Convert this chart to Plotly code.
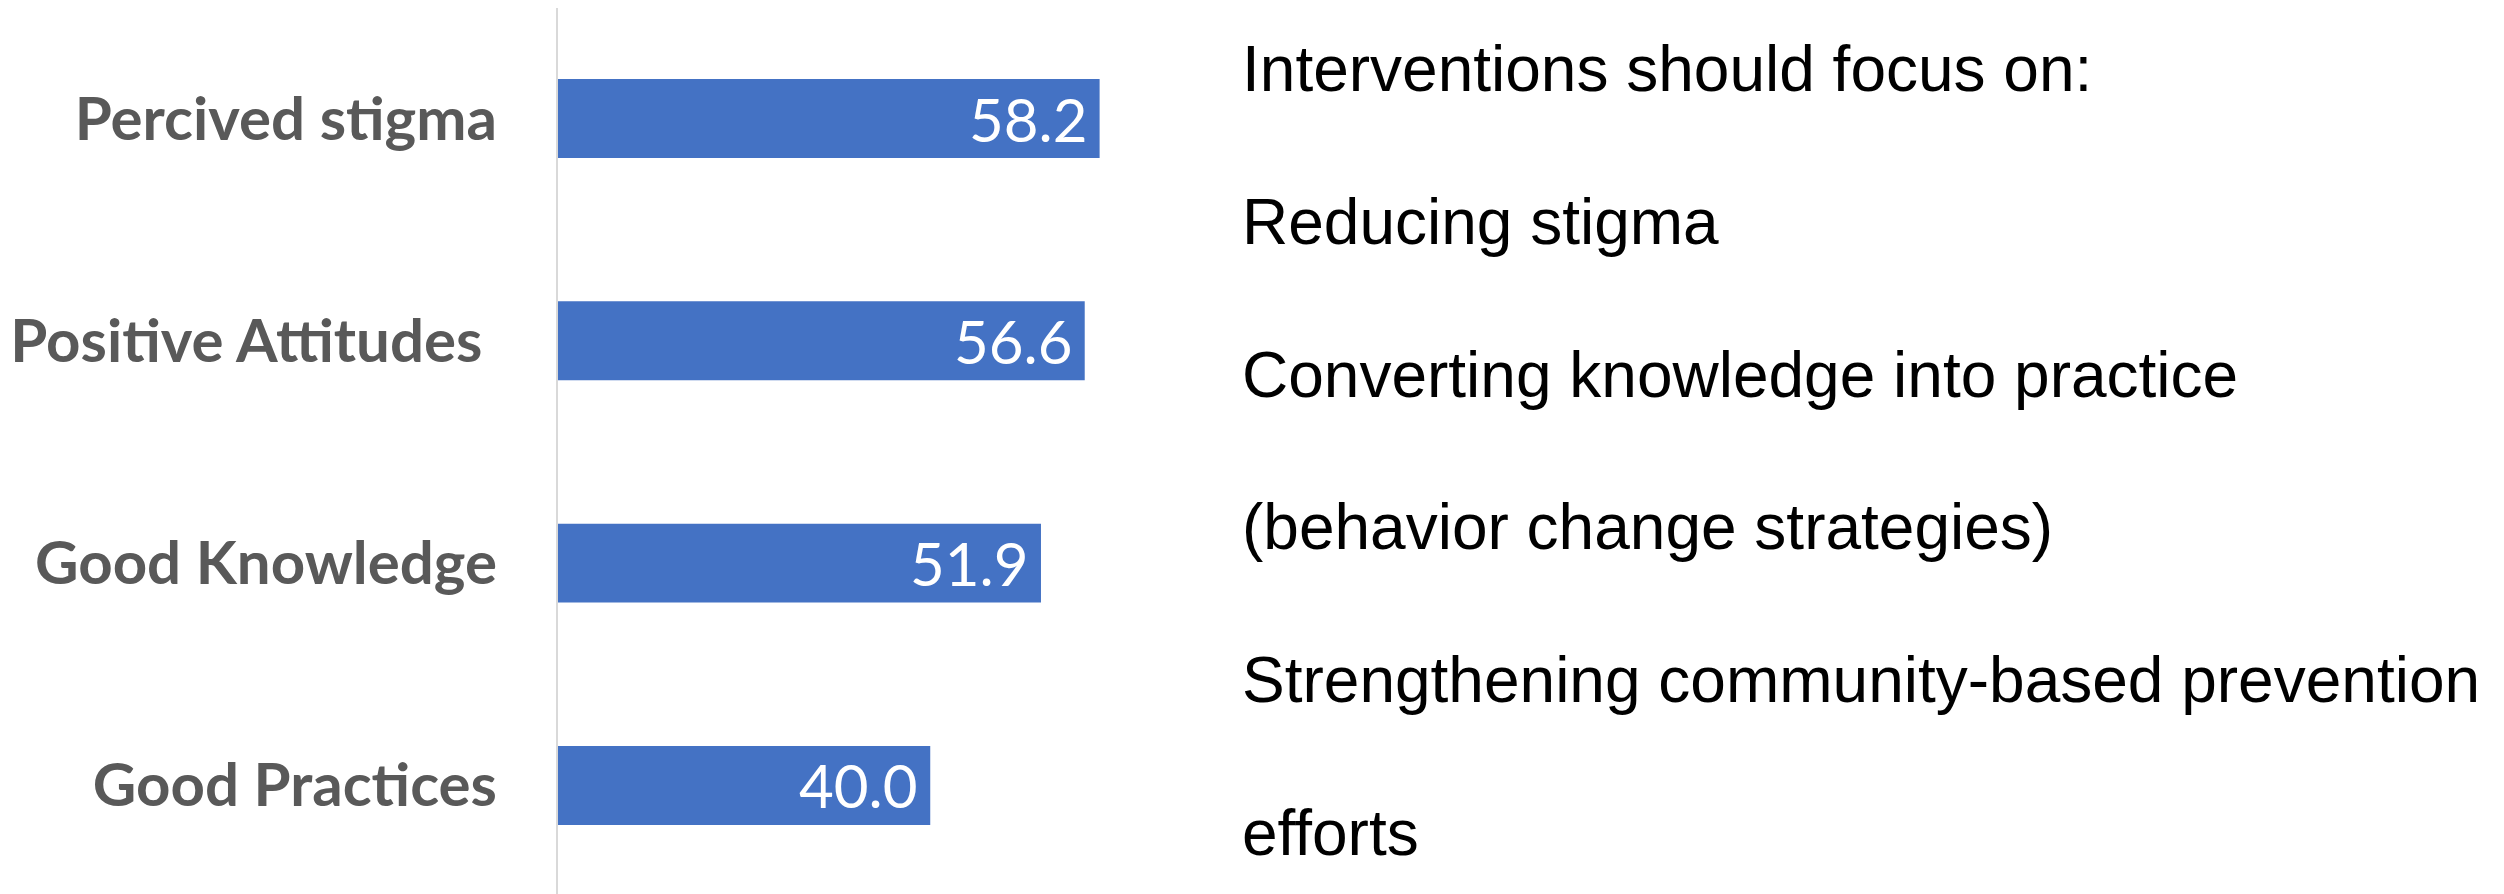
import plotly.graph_objects as go

categories = ["Percived stigma", "Positive Attitudes ", "Good Knowledge", "Good Practices"]
values = [58.2, 56.6, 51.9, 40.0]
notes = [
    "Interventions should focus on:",
    "Reducing stigma",
    "Converting knowledge into practice",
    "(behavior change strategies)",
    "Strengthening community-based prevention",
    "efforts",
]

W, H = 2504, 894
OFF = 8           # page body margin of the default html
X0 = 558 - OFF    # pixel position of the zero line
PX_PER_UNIT = 9.306
XMAX = 70
x_dom_end = (X0 + XMAX * PX_PER_UNIT) / W

# category band geometry (pixels)
first_center = 118.5 - OFF
band = 222.33
y_top = -first_center / band
y_bot = (H - first_center) / band

fig = go.Figure()
fig.add_trace(go.Bar(
    y=categories, x=values, orientation="h",
    marker=dict(color="#4472C4", line=dict(width=0)),
    width=0.355, hoverinfo="skip",
))

for c, v in zip(categories, values):
    fig.add_annotation(
        x=v, y=c, xref="x", yref="y", text=f"{v:.1f}",
        showarrow=False, xanchor="right", yanchor="middle", xshift=-10,
        font=dict(family="Lato", size=60, color="white"),
    )

baselines = [91, 244, 397, 549, 702, 855]
for t, b in zip(notes, baselines):
    fig.add_annotation(
        x=(1240 - OFF) / W, y=1 - (b - 22 - OFF) / H, xref="paper", yref="paper",
        text=t, showarrow=False, xanchor="left", yanchor="middle",
        font=dict(family="Liberation Sans, Arial", size=64, color="black"),
    )

fig.update_layout(
    width=W, height=H,
    margin=dict(l=0, r=0, t=0, b=0, autoexpand=False),
    paper_bgcolor="white", plot_bgcolor="white",
    showlegend=False,
    xaxis=dict(domain=[X0 / W, x_dom_end], range=[0, XMAX], visible=False,
               showgrid=False, zeroline=False, fixedrange=True, automargin=False),
    yaxis=dict(domain=[0, 1], range=[y_bot, y_top], showgrid=False,
               showline=True, linecolor="#D9D9D9", linewidth=2,
               ticks="", ticklabelstandoff=47, automargin=False,
               tickfont=dict(family="Lato", size=60, color="#595959", weight="bold"),
               fixedrange=True),
)

fig.write_html("out.html")
